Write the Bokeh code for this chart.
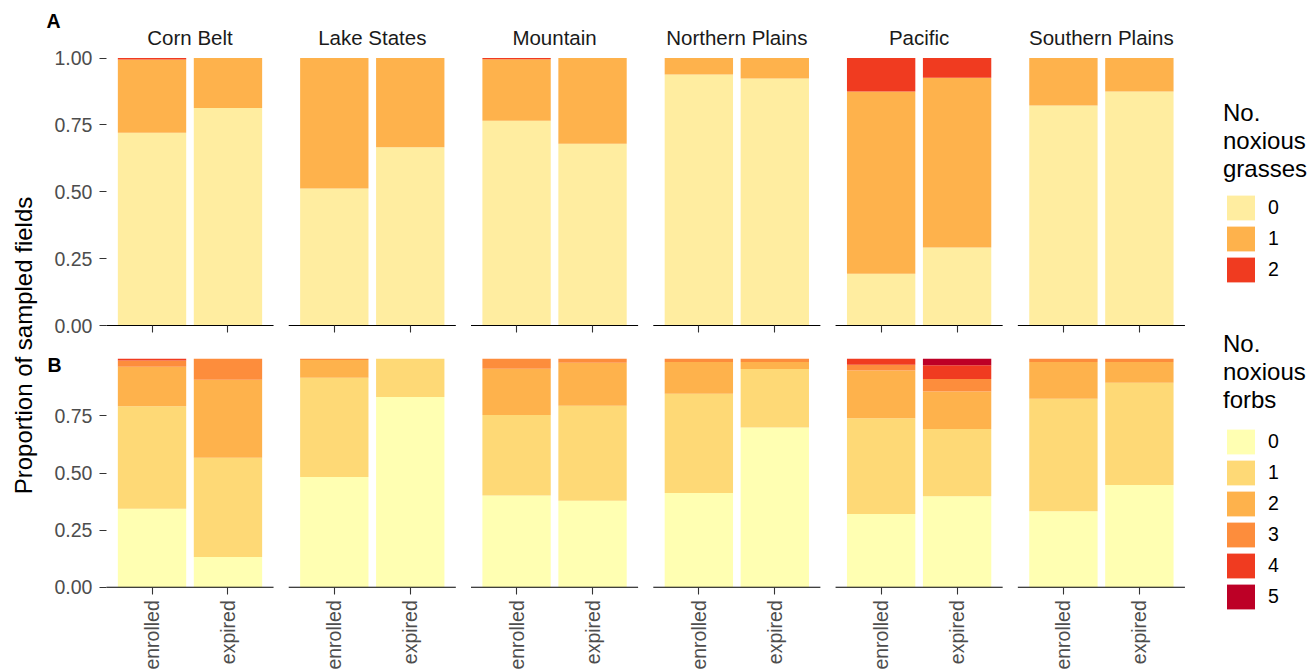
import math
from bokeh.plotting import figure
from bokeh.models import (ColumnDataSource, Range1d, FixedTicker, NumeralTickFormatter,
                          LinearAxis, Label, Legend, LegendItem)
from bokeh.embed import file_html
from bokeh.resources import INLINE

# ---------------- data ----------------
regions = ["Corn Belt", "Lake States", "Mountain", "Northern Plains", "Pacific", "Southern Plains"]
statuses = ["enrolled", "expired"]

# order: CB-en, CB-ex, LS-en, LS-ex, M-en, M-ex, NP-en, NP-ex, P-en, P-ex, SP-en, SP-ex
grass_0 = [0.721, 0.813, 0.512, 0.666, 0.765, 0.679, 0.938, 0.923, 0.193, 0.292, 0.822, 0.875]
grass_1 = [0.273, 0.187, 0.488, 0.334, 0.230, 0.321, 0.062, 0.077, 0.682, 0.634, 0.178, 0.125]
grass_2 = [0.006, 0.000, 0.000, 0.000, 0.005, 0.000, 0.000, 0.000, 0.125, 0.074, 0.000, 0.000]

forb_0 = [0.344, 0.132, 0.482, 0.833, 0.401, 0.378, 0.412, 0.699, 0.321, 0.398, 0.332, 0.448]
forb_1 = [0.448, 0.435, 0.435, 0.167, 0.353, 0.416, 0.435, 0.256, 0.419, 0.295, 0.493, 0.447]
forb_2 = [0.173, 0.341, 0.078, 0.000, 0.202, 0.189, 0.139, 0.031, 0.209, 0.164, 0.161, 0.091]
forb_3 = [0.028, 0.092, 0.005, 0.000, 0.044, 0.017, 0.014, 0.014, 0.025, 0.055, 0.014, 0.014]
forb_4 = [0.007, 0.000, 0.000, 0.000, 0.000, 0.000, 0.000, 0.000, 0.026, 0.060, 0.000, 0.000]
forb_5 = [0.000, 0.000, 0.000, 0.000, 0.000, 0.000, 0.000, 0.000, 0.000, 0.028, 0.000, 0.000]

grass_levels = ["0", "1", "2"]
forb_levels = ["0", "1", "2", "3", "4", "5"]
grass_colors = ["#FFEDA0", "#FEB24C", "#F03B20"]
forb_colors = ["#FFFFB2", "#FED976", "#FEB24C", "#FD8D3C", "#F03B20", "#BD0026"]

y_ticks_A = [0.0, 0.25, 0.5, 0.75, 1.0]
y_ticks_B = [0.0, 0.25, 0.5, 0.75]

# ---------------- facet geometry (x units) ----------------
PANEL_STEP = 2.4
BAR_W = 0.9
x_pos = [PANEL_STEP * i + 1.0 + j for i in range(len(regions)) for j in range(len(statuses))]
x_labels = [s for _ in regions for s in statuses]
panel_centers = [PANEL_STEP * i + 1.5 for i in range(len(regions))]
panel_x0 = [PANEL_STEP * i + 0.4 for i in range(len(regions))]
panel_x1 = [PANEL_STEP * i + 2.6 for i in range(len(regions))]

# ---------------- canvas geometry ----------------
W, H = 1316, 671
FONT = "Liberation Sans"
TICK_COL = "#333333"
TXT_COL = "#4D4D4D"
PX_X = 75.95           # px per x unit
LEFT_PX = 105.95       # screen x of first panel's left edge
A_ZERO, A_PPU = 325.0, 267.5     # row A: screen y of 0, px per unit
B_ZERO, B_PPU = 586.7, 228.4     # row B

x_range = Range1d(0.4 - LEFT_PX / PX_X, 0.4 + (W - LEFT_PX) / PX_X)
rangeA = Range1d(-(H - A_ZERO) / A_PPU, 1 + (A_ZERO - A_PPU) / A_PPU)
rangeB = Range1d(-(H - B_ZERO) / B_PPU, 1 + (B_ZERO - B_PPU) / B_PPU)

p = figure(width=W, height=H, x_range=x_range, y_range=rangeA,
           output_backend="svg", toolbar_location=None, min_border=0,
           x_axis_location=None, y_axis_location=None)
p.extra_y_ranges = {"B": rangeB}
p.grid.visible = False
p.outline_line_color = None
p.background_fill_color = "white"
p.border_fill_color = "white"

src_A = ColumnDataSource(dict(x=x_pos, g0=grass_0, g1=grass_1, g2=grass_2))
src_B = ColumnDataSource(dict(x=x_pos, f0=forb_0, f1=forb_1, f2=forb_2,
                              f3=forb_3, f4=forb_4, f5=forb_5))
src_axis = ColumnDataSource(dict(x0=panel_x0, x1=panel_x1, y=[0.0] * len(regions)))

# ---------------- bars ----------------
rA = p.vbar_stack(["g0", "g1", "g2"], x="x", width=BAR_W, fill_color=grass_colors,
                  line_color=None, source=src_A)
rB = p.vbar_stack(["f0", "f1", "f2", "f3", "f4", "f5"], x="x", width=BAR_W,
                  fill_color=forb_colors, line_color=None, source=src_B, y_range_name="B")

# per-panel x axis lines
p.segment(x0="x0", x1="x1", y0="y", y1="y", source=src_axis, line_color="black", line_width=1.1)
p.segment(x0="x0", x1="x1", y0="y", y1="y", source=src_axis, line_color="black", line_width=1.1,
          y_range_name="B")


def style_y(ax):
    ax.axis_line_color = None
    ax.major_tick_out = 7
    ax.major_tick_in = 0
    ax.minor_tick_line_color = None
    ax.major_tick_line_color = TICK_COL
    ax.major_tick_line_width = 1.1
    ax.formatter = NumeralTickFormatter(format="0.00")
    ax.major_label_text_font = FONT
    ax.major_label_text_font_size = "19.5px"
    ax.major_label_text_color = TXT_COL
    ax.major_label_standoff = 7


def style_x(ax):
    ax.axis_line_color = None
    ax.major_tick_out = 7
    ax.major_tick_in = 0
    ax.minor_tick_line_color = None
    ax.major_tick_line_color = TICK_COL
    ax.major_tick_line_width = 1.1


# y axes (fixed at the left edge of the first panel)
yA = LinearAxis(fixed_location=0.4, ticker=FixedTicker(ticks=y_ticks_A))
style_y(yA)
p.add_layout(yA, "left")
yB = LinearAxis(fixed_location=0.4, y_range_name="B", ticker=FixedTicker(ticks=y_ticks_B))
style_y(yB)
p.add_layout(yB, "left")

# x axes (row A: ticks only, no labels)
xA = LinearAxis(fixed_location=0.0, ticker=FixedTicker(ticks=x_pos),
                major_label_overrides={x: "" for x in x_pos})
style_x(xA)
xA.major_label_text_color = None
xA.major_label_text_alpha = 0
xA.major_label_standoff = 0
p.add_layout(xA, "below")

xB = LinearAxis(fixed_location=0.0, y_range_name="B", ticker=FixedTicker(ticks=x_pos),
                major_label_overrides={x: s for x, s in zip(x_pos, x_labels)})
style_x(xB)
xB.major_label_orientation = math.pi / 2
xB.major_label_text_font = FONT
xB.major_label_text_font_size = "19.5px"
xB.major_label_text_color = TXT_COL
xB.major_label_standoff = 6
p.add_layout(xB, "below")

# facet strip labels
strip = LinearAxis(fixed_location=1.0, ticker=FixedTicker(ticks=panel_centers),
                   major_label_overrides={c: r for c, r in zip(panel_centers, regions)})
strip.axis_line_color = None
strip.major_tick_line_color = None
strip.major_tick_out = 0
strip.major_tick_in = 0
strip.minor_tick_line_color = None
strip.major_label_text_font = FONT
strip.major_label_text_font_size = "20.5px"
strip.major_label_text_color = "#1A1A1A"
strip.major_label_standoff = 9
p.add_layout(strip, "above")


# ---------------- legends ----------------
def make_legend(title, levels, renderers, loc, standoff):
    leg = Legend(items=[LegendItem(label=l, renderers=[r]) for l, r in zip(levels, renderers)])
    leg.location = loc
    leg.title = title
    leg.title_text_font = FONT
    leg.title_text_font_size = "24px"
    leg.title_text_font_style = "normal"
    leg.title_text_color = "black"
    leg.title_standoff = standoff
    leg.label_text_font = FONT
    leg.label_text_font_size = "19.5px"
    leg.label_text_color = "black"
    leg.glyph_width = 35
    leg.glyph_height = 31
    leg.spacing = 0
    leg.label_standoff = 10
    leg.padding = 0
    leg.margin = 0
    leg.border_line_color = None
    leg.background_fill_alpha = 0
    return leg


p.add_layout(make_legend("No.\nnoxious\ngrasses", grass_levels, rA, (1223, H - 285), 9))
p.add_layout(make_legend("No.\nnoxious\nforbs", forb_levels, rB, (1223, H - 612), 12))

# ---------------- texts ----------------
p.add_layout(Label(x=23, y=H - 345, x_units="screen", y_units="screen",
                   text="Proportion of sampled fields", angle=math.pi / 2,
                   text_font=FONT, text_font_size="24px", text_color="black",
                   text_align="center", text_baseline="middle"))
p.add_layout(Label(x=46, y=H - 9.6, x_units="screen", y_units="screen", text="A",
                   text_font=FONT, text_font_size="19.5px", text_font_style="bold",
                   text_color="black", text_align="left", text_baseline="top"))
p.add_layout(Label(x=47, y=H - 353.5, x_units="screen", y_units="screen", text="B",
                   text_font=FONT, text_font_size="19.5px", text_font_style="bold",
                   text_color="black", text_align="left", text_baseline="top"))

open("out.html", "w").write(file_html(p, INLINE))
